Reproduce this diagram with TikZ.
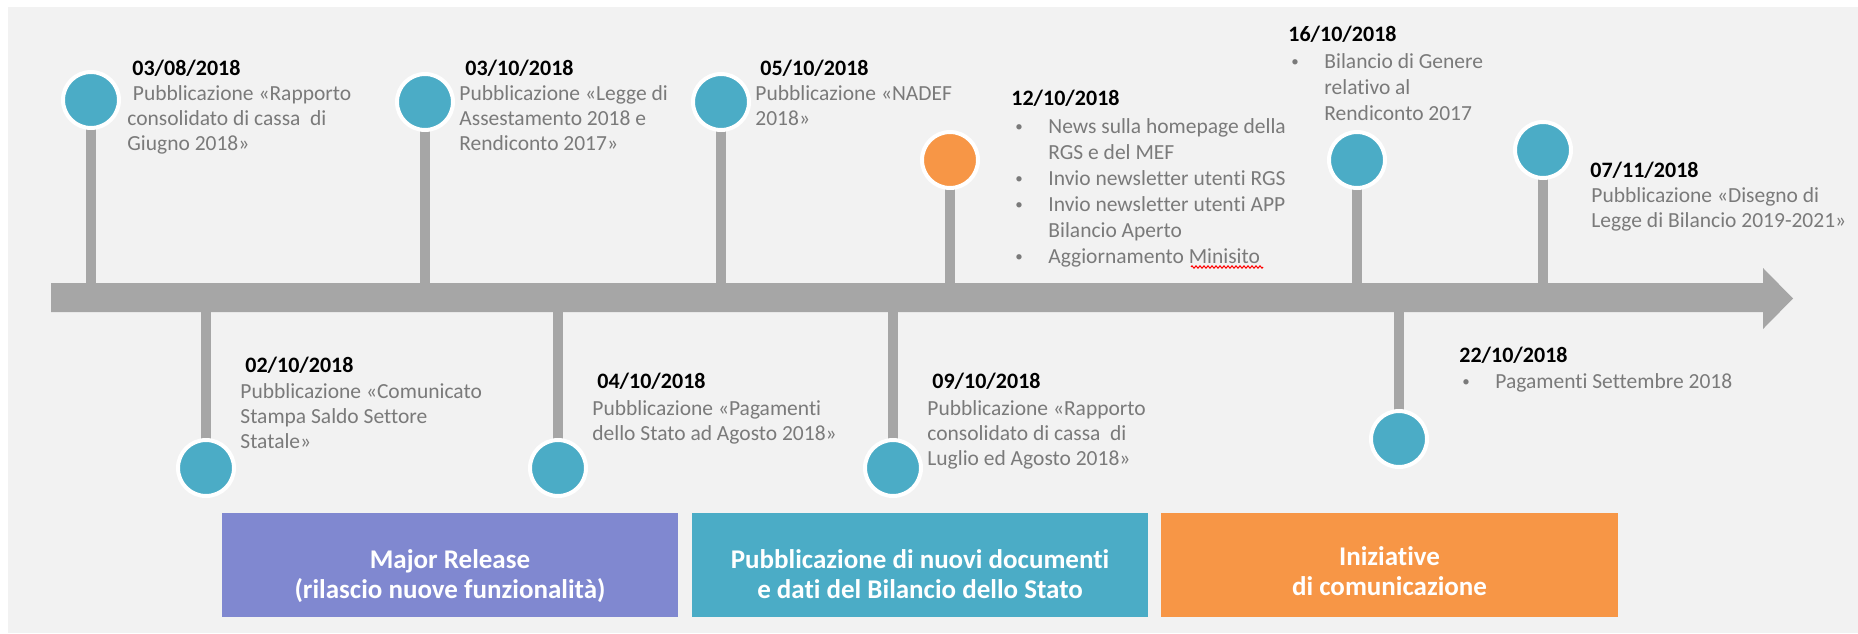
\documentclass[tikz,border=0pt]{standalone}
\usepackage{fontspec}
\setmainfont{Carlito}[Ligatures=NoCommon]
\usetikzlibrary{decorations.pathmorphing}
\definecolor{bgC}{HTML}{F2F2F2}
\definecolor{axisC}{HTML}{A6A6A6}
\definecolor{dotC}{HTML}{4BACC6}
\definecolor{orangeC}{HTML}{F79646}
\definecolor{purpleC}{HTML}{8088D0}
\definecolor{descC}{HTML}{7A7A7A}
\newcommand\tl[1]{\begin{tabular}[t]{@{}l@{}}#1\end{tabular}}
\newcommand\tc[1]{\begin{tabular}[t]{@{}c@{}}#1\end{tabular}}
\newcommand\bul{\makebox[16.5pt][l]{\raisebox{0.9pt}{\fontsize{7.5}{8}\selectfont\textbullet}}}
\newcommand\ind{\hspace*{16.5pt}}
\begin{document}
\begin{tikzpicture}[x=0.5pt,y=-0.5pt,
  evdot/.style={circle, fill=dotC, draw=white, line width=2pt, minimum size=28pt, inner sep=0pt},
  stem/.style={draw=axisC, line width=5pt},
  datetxt/.style={anchor=base west, inner sep=0pt, font=\fontsize{11}{13}\selectfont\bfseries},
  desctxt/.style={anchor=base west, inner sep=0pt, text=descC, font=\fontsize{10.75}{12.5}\selectfont},
  listtxt/.style={anchor=base west, inner sep=0pt, text=descC, font=\fontsize{10.75}{13}\selectfont},
  band/.style={rectangle, minimum width=228pt, minimum height=52pt, inner sep=0pt},
  bandtxt/.style={anchor=base, inner sep=0pt, text=white, font=\fontsize{13.5}{15}\selectfont\bfseries}
]
\useasboundingbox (0,0) rectangle (1858,633);
\fill[bgC] (8,7) rectangle (1858,633);
% axis arrow
\fill[axisC] (51,283) -- (1763,283) -- (1763,268) -- (1793,298.5) -- (1763,329) -- (1763,312) -- (51,312) -- cycle;
\coordinate (axis) at (51,297.5);

% event circles (positions)
\coordinate (p1) at (91,100);
\coordinate (p2) at (425,102);
\coordinate (p3) at (721,102);
\coordinate (p4) at (950,160);
\coordinate (p5) at (1357,160);
\coordinate (p6) at (1543,150);
\coordinate (p7) at (206,468);
\coordinate (p8) at (558,468);
\coordinate (p9) at (893,468);
\coordinate (p10) at (1399,439);

% stems
\foreach \i in {1,...,10} \draw[stem] (p\i) -- (p\i |- axis);

% circles
\node[evdot] (e1) at (p1) {};
\node[evdot] (e2) at (p2) {};
\node[evdot] (e3) at (p3) {};
\node[evdot, fill=orangeC] (e4) at (p4) {};
\node[evdot] (e5) at (p5) {};
\node[evdot] (e6) at (p6) {};
\node[evdot] (e7) at (p7) {};
\node[evdot] (e8) at (p8) {};
\node[evdot] (e9) at (p9) {};
\node[evdot] (e10) at (p10) {};

% texts
\node[datetxt] (d1) at (132,75) {03/08/2018};
\node[desctxt] (t1) at (127,100) {\tl{\hspace*{2.75pt}Pubblicazione «Rapporto\\consolidato di cassa\ \ di\\Giugno 2018»}};

\node[datetxt] (d2) at (465,75) {03/10/2018};
\node[desctxt] (t2) at (459,100) {\tl{Pubblicazione «Legge di\\Assestamento 2018 e\\Rendiconto 2017»}};

\node[datetxt] (d3) at (760,75) {05/10/2018};
\node[desctxt] (t3) at (755,100) {\tl{Pubblicazione «NADEF\\2018»}};

\node[datetxt] (d4) at (1011,105) {12/10/2018};
\node[listtxt] (t4) at (1015,133) {\tl{\bul News sulla homepage della\\\ind RGS e del MEF\\\bul Invio newsletter utenti RGS\\\bul Invio newsletter utenti APP\\\ind Bilancio Aperto\\\bul Aggiornamento Minisito}};
\draw[red, line width=0.5pt, decorate, decoration={zigzag, amplitude=0.6pt, segment length=2pt}] (1191,267) -- (1263,267);

\node[datetxt] (d5) at (1288,41) {16/10/2018};
\node[listtxt] (t5) at (1291,68) {\tl{\bul Bilancio di Genere\\\ind relativo al\\\ind Rendiconto 2017}};

\node[datetxt] (d6) at (1590,177) {07/11/2018};
\node[desctxt] (t6) at (1591,202) {\tl{Pubblicazione «Disegno di\\Legge di Bilancio 2019-2021»}};

\node[datetxt] (d7) at (245,372) {02/10/2018};
\node[desctxt] (t7) at (240,398) {\tl{Pubblicazione «Comunicato\\Stampa Saldo Settore\\Statale»}};

\node[datetxt] (d8) at (597,388) {04/10/2018};
\node[desctxt] (t8) at (592,415) {\tl{Pubblicazione «Pagamenti\\dello Stato ad Agosto 2018»}};

\node[datetxt] (d9) at (932,388) {09/10/2018};
\node[desctxt] (t9) at (927,415) {\tl{Pubblicazione «Rapporto\\consolidato di cassa\ \ di\\Luglio ed Agosto 2018»}};

\node[datetxt] (d10) at (1459,362) {22/10/2018};
\node[listtxt] (t10) at (1462,388) {\tl{\bul Pagamenti Settembre 2018}};

% bands
\node[band, fill=purpleC] (b1) at (450,565) {};
\node[band, fill=dotC] (b2) at (920,565) {};
\node[band, fill=orangeC, minimum width=228.5pt] (b3) at (1389.5,565) {};
\node[bandtxt] (bt1) at (450,568) {\tc{Major Release\\(rilascio nuove funzionalità)}};
\node[bandtxt] (bt2) at (920,568) {\tc{Pubblicazione di nuovi documenti\\e dati del Bilancio dello Stato}};
\node[bandtxt] (bt3) at (1389.5,565) {\tc{Iniziative\\di comunicazione}};
\end{tikzpicture}
\end{document}
